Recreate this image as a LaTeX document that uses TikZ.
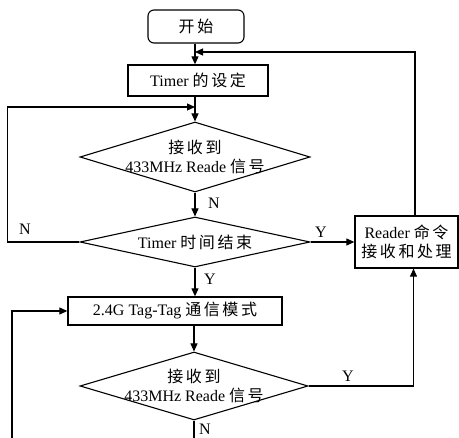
\documentclass[tikz,border=0pt]{standalone}
\usepackage{fontspec}
\setmainfont{Liberation Serif}
\newfontfamily\cjk[LetterSpace=16]{Noto Sans CJK SC}
\usetikzlibrary{arrows.meta,positioning,shapes.geometric}

\begin{document}
\begin{tikzpicture}[
    x=1pt, y=-1pt,
    >={Triangle[length=8pt,width=7pt]},
    every node/.style={font=\fontsize{16}{19}\selectfont},
    line/.style={line width=1.1pt},
    startbox/.style={draw, rectangle, rounded corners=6pt, line width=1.1pt,
        minimum width=96pt, minimum height=33pt},
    procbox/.style={draw, rectangle, line width=1.3pt, inner sep=0pt,
        align=center},
    decision/.style={draw, diamond, line width=1.1pt, inner sep=0pt},
    lbl/.style={inner sep=0pt}
]
    \useasboundingbox (0,0) rectangle (459,438);

    \node[startbox] (start) at (196,26.5) {\cjk 开始};
    \node[procbox, minimum width=140pt, minimum height=31pt] (timer) at (198,80.5)
        {Timer {\cjk 的设定}};

    \node[decision, minimum width=230pt, minimum height=70pt] (recv1) at (195,157) {};
    \node[lbl, align=center] (recv1txt) at (recv1) {{\cjk 接收到}\\433MHz Reade {\cjk 信号}};

    \node[decision, minimum width=230pt, minimum height=50pt] (tmout) at (195,242) {};
    \node[lbl] (tmouttxt) at (tmout) {Timer {\cjk 时间结束}};

    \node[procbox, minimum width=103pt, minimum height=52pt] (reader) at (406.5,242)
        {Reader {\cjk 命令}\\{\cjk 接收和处理}};

    \node[procbox, minimum width=214pt, minimum height=28pt] (tagmode) at (175,311)
        {2.4G Tag-Tag {\cjk 通信模式}};

    \node[decision, minimum width=228pt, minimum height=68pt] (recv2) at (194,386) {};
    \node[lbl, align=center] (recv2txt) at (recv2) {{\cjk 接收到}\\433MHz Reade {\cjk 信号}};

    % junctions on the main line
    \coordinate (j0) at (195,52);
    \coordinate (j1) at (195,107);
    \coordinate (bottomL) at (12,438);
    \coordinate (bottomN) at (194,438);

    \draw[line,->] (start.south -| j0) -- (j0 |- timer.north);
    \draw[line,->] (recv1.north |- timer.south) -- (recv1.north);
    \draw[line,->] (recv1.south) -- (tmout.north);
    \draw[line,->] (tmout.west) -- ++(-72,0) |- (j1);
    \draw[line,->] (tmout.east) -- (reader.west);
    \draw[line,->] ([xshift=8.5pt]reader.north) |- (j0);
    \draw[line,->] (tmout.south) -- (tmout.south |- tagmode.north);
    \draw[line,->] (bottomL) |- (tagmode.west);
    \draw[line,->] (recv2.north |- tagmode.south) -- (recv2.north);
    \draw[line,->] (recv2.east) -| ([xshift=7pt]reader.south);
    \draw[line] (recv2.south) -- (bottomN);

    \node[lbl] (n1) at (214,203) {N};
    \node[lbl] (n2) at (25,229) {N};
    \node[lbl] (y1) at (321,232) {Y};
    \node[lbl] (y2) at (210,279) {Y};
    \node[lbl] (y3) at (348,376) {Y};
    \node[lbl] (n3) at (205,429) {N};
\end{tikzpicture}
\end{document}
